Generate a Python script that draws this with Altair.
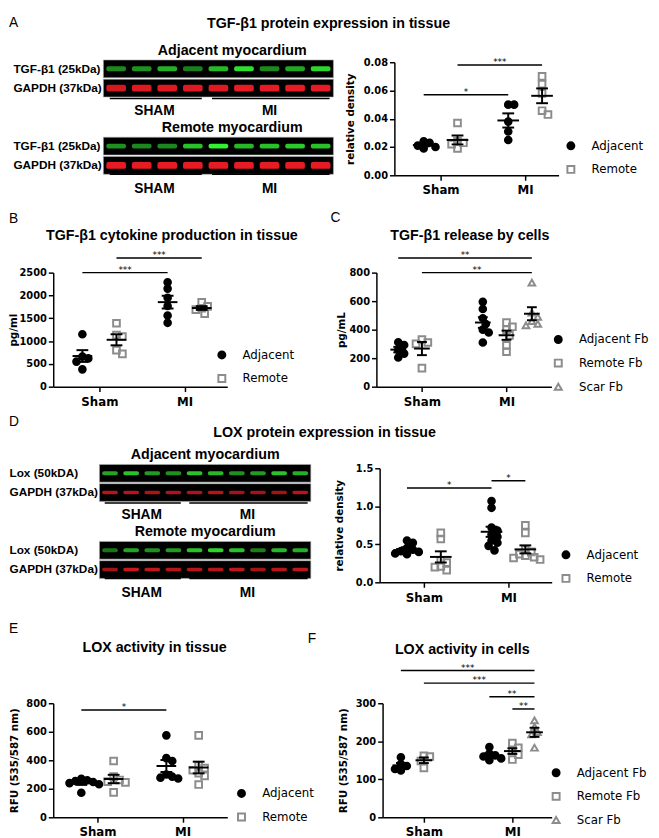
import json
import altair as alt
import pandas as pd

# ------------------------------------------------------------------ styles
SANS = "Liberation Sans"
PRISM = "DejaVu Sans"
GREY = "#8c8c8c"
GREEN = "#33f233"
RED = "#f01c24"

# ------------------------------------------------------------------ categories / texts
GROUPS = ["Sham", "MI"]
SERIES_TISSUE = ["Adjacent", "Remote"]
SERIES_CELLS = ["Adjacent Fb", "Remote Fb", "Scar Fb"]
LETTERS = ["A", "B", "C", "D", "E", "F"]
TITLES = ["TGF-β1 protein expression in tissue",
          "TGF-β1 cytokine production in tissue",
          "TGF-β1 release by cells",
          "LOX protein expression in tissue",
          "LOX activity in tissue",
          "LOX activity in cells"]

# ------------------------------------------------------------------ panel A (densitometry)
A_adj_sham = [0.024, 0.023, 0.021, 0.020, 0.019]
A_rem_sham = [0.037, 0.024, 0.023, 0.022, 0.019]
A_adj_mi = [0.050, 0.050, 0.038, 0.031, 0.025]
A_rem_mi = [0.070, 0.0645, 0.058, 0.0457, 0.043]
A_sig = [["Sham", "Adjacent", "MI", "Adjacent", 0.057, "*"],
         ["Sham", "Remote", "MI", "Remote", 0.078, "***"]]
A_lane_groups = ["SHAM", "SHAM", "SHAM", "SHAM", "MI", "MI", "MI", "MI", "MI"]
A_blot_titles = ["Adjacent myocardium", "Remote myocardium"]
A_blot_rows = ["TGF-β1 (25kDa)", "GAPDH (37kDa)"]
A_adj_tgf = [0.45, 0.50, 0.65, 0.40, 0.70, 0.90, 0.45, 0.60, 0.85]
A_adj_gapdh = [0.85, 0.90, 0.90, 0.90, 0.90, 0.95, 0.95, 0.95, 0.95]
A_rem_tgf = [0.50, 0.45, 0.45, 0.75, 1.00, 0.70, 0.75, 0.80, 0.75]
A_rem_gapdh = [0.95, 0.95, 0.95, 0.95, 0.95, 0.95, 0.95, 0.95, 0.95]

# ------------------------------------------------------------------ panel B
B_adj_sham = [1150, 660, 620, 550, 380]
B_rem_sham = [1390, 1130, 1100, 800, 720]
B_adj_mi = [2290, 2150, 1950, 1770, 1560, 1400]
B_rem_mi = [1850, 1760, 1720, 1690, 1600]
B_sig = [["Sham", "Adjacent", "MI", "Adjacent", 2500, "***"],
         ["Sham", "Remote", "MI", "Remote", 2823, "***"]]

# ------------------------------------------------------------------ panel C
C_adj_sham = [312, 292, 258, 232, 205]
C_rem_sham = [330, 310, 300, 130]
C_adj_mi = [595, 545, 480, 440, 400, 380, 310]
C_rem_mi = [450, 420, 400, 360, 290, 245]
C_scar_mi = [730, 520, 490, 460, 440, 430]
C_sig = [["Sham", "Adjacent Fb", "MI", "Scar Fb", 903, "**"],
         ["Sham", "Remote Fb", "MI", "Scar Fb", 800, "**"]]

# ------------------------------------------------------------------ panel D
D_adj_sham = [0.55, 0.52, 0.45, 0.43, 0.41, 0.40, 0.38, 0.37]
D_rem_sham = [0.65, 0.57, 0.29, 0.26, 0.21, 0.20, 0.16]
D_adj_mi = [1.07, 0.98, 0.72, 0.68, 0.63, 0.60, 0.55, 0.52, 0.48, 0.42]
D_rem_mi = [0.75, 0.65, 0.43, 0.40, 0.37, 0.35, 0.33, 0.32, 0.30]
D_sig = [["Sham", "Adjacent", "MI", "Adjacent", 1.24, "*"],
         ["MI", "Adjacent", "MI", "Remote", 1.336, "*"]]
D_lane_groups = ["SHAM", "SHAM", "SHAM", "SHAM", "MI", "MI", "MI", "MI", "MI", "MI"]
D_blot_titles = ["Adjacent myocardium", "Remote myocardium"]
D_blot_rows = ["Lox (50kDA)", "GAPDH (37kDa)"]
D_adj_lox = [0.60, 0.75, 0.55, 0.50, 0.75, 0.70, 0.50, 0.55, 0.75, 0.65]
D_adj_gapdh = [0.70, 0.70, 0.65, 0.65, 0.65, 0.70, 0.60, 0.60, 0.60, 0.70]
D_rem_lox = [0.35, 0.60, 0.50, 0.55, 0.75, 0.85, 0.75, 0.40, 0.70, 0.65]
D_rem_gapdh = [0.60, 0.80, 0.75, 0.70, 0.70, 0.70, 0.75, 0.60, 0.70, 0.75]

# ------------------------------------------------------------------ panel E
E_adj_sham = [270, 260, 255, 248, 240, 232, 172]
E_rem_sham = [395, 285, 262, 250, 245, 175]
E_adj_mi = [575, 415, 395, 300, 285, 278, 272]
E_rem_mi = [575, 365, 345, 330, 310, 290, 230]
E_sig = [["Sham", "Adjacent", "MI", "Adjacent", 752, "*"]]

# ------------------------------------------------------------------ panel F
F_adj_sham = [158, 140, 135, 127, 123]
F_rem_sham = [162, 160, 148, 130]
F_adj_mi = [185, 168, 163, 160, 155, 150]
F_rem_mi = [195, 183, 176, 165, 152]
F_scar_mi = [255, 238, 224, 218, 183]
F_sig = [["Sham", "Adjacent Fb", "MI", "Scar Fb", 386, "***"],
         ["Sham", "Remote Fb", "MI", "Scar Fb", 353, "***"],
         ["MI", "Adjacent Fb", "MI", "Scar Fb", 317, "**"],
         ["MI", "Remote Fb", "MI", "Scar Fb", 285, "**"]]

SHAPES = ["circle", "square", "triangle-up"]
FILLS = ["black", "transparent", "transparent"]
STROKES = ["black", GREY, GREY]

CFG = {
    "A": dict(w=167, h=115, xdom=[0.4535, 2.3953], ymax=0.08, yticks=[0, 0.02, 0.04, 0.06, 0.08],
              fmt=".2f", ytitle="relative density", tx=-45,
              off={"Adjacent": -0.2, "Remote": 0.2}, mw=22, cw=12, leg=(173.5, 79)),
    "B": dict(w=177, h=116, xdom=[0.458, 2.4994], ymax=2500, yticks=[0, 500, 1000, 1500, 2000, 2500],
              fmt="d", ytitle="pg/ml", tx=-40,
              off={"Adjacent": -0.2, "Remote": 0.2}, mw=20, cw=12, leg=(165.5, 77.7)),
    "C": dict(w=178, h=116, xdom=[0.4616, 2.531], ymax=800, yticks=[0, 200, 400, 600, 800],
              fmt="d", ytitle="pg/mL", tx=-35,
              off={"Adjacent Fb": -0.28, "Remote Fb": 0.0, "Scar Fb": 0.3}, mw=16, cw=10, leg=(179, 62)),
    "D": dict(w=175, h=116, xdom=[0.4767, 2.5116], ymax=1.5, yticks=[0, 0.5, 1.0, 1.5],
              fmt=".1f", ytitle="relative density", tx=-41,
              off={"Adjacent": -0.2, "Remote": 0.2}, mw=22, cw=12, leg=(183.5, 82)),
    "E": dict(w=177, h=116, xdom=[0.4798, 2.526], ymax=800, yticks=[0, 200, 400, 600, 800],
              fmt="d", ytitle="RFU (535/587 nm)", tx=-39,
              off={"Adjacent": -0.19, "Remote": 0.19}, mw=20, cw=12, leg=(185.5, 85.7)),
    "F": dict(w=172, h=116, xdom=[0.5333, 2.4444], ymax=300, yticks=[0, 100, 200, 300],
              fmt="d", ytitle="RFU (535/587 nm)", tx=-40,
              off={"Adjacent Fb": -0.26, "Remote Fb": 0.0, "Scar Fb": 0.25}, mw=17, cw=10, leg=(170.5, 64.7)),
}


def swarm(vals, ppu, step_px, dmin=6.0, s=3.0):
    """Simple beeswarm layout: horizontal offsets (x units) so dots do not pile up."""
    order = sorted(range(len(vals)), key=lambda i: -vals[i])
    cands = [0.0]
    for m in range(1, 14):
        cands += [m * s, -m * s]
    placed, offs = [], [0.0] * len(vals)
    for i in order:
        yv = vals[i] * ppu
        chosen = cands[-1]
        for c in cands:
            if all((c - px) ** 2 + (yv - py) ** 2 >= dmin ** 2 for px, py in placed):
                chosen = c
                break
        placed.append((chosen, yv))
        offs[i] = chosen / step_px
    return offs


def gi_expr(f):
    return "(indexof(" + json.dumps(GROUPS) + ", datum." + f + ") + 1)"


def off_expr(f, offs):
    return "(" + " : ".join(f"datum.{f} == '{s}' ? {o}" for s, o in offs.items()) + " : 0)"


def text_layer(txt, x, y, size, weight, align="left"):
    return alt.Chart(pd.DataFrame({"t": [txt]})).mark_text(
        font=SANS, fontSize=size, fontWeight=weight, align=align, baseline="alphabetic", color="black"
    ).encode(x=alt.value(x), y=alt.value(y), text="t:N")


def spacer(top, bottom):
    # invisible (white) rule that fixes the vertical extent of a row of panels
    return alt.Chart(pd.DataFrame({"s": [0]})).mark_rule(color="white", strokeWidth=0.5).encode(
        x=alt.value(-45), y=alt.value(top), y2=alt.value(bottom))


def scatter_cell(gv, series, cfg, sig, before=(), after=()):
    W, H = cfg["w"], cfg["h"]
    n = len(series)
    ppu = H / cfg["ymax"]
    step = W / (cfg["xdom"][1] - cfg["xdom"][0])
    recs = []
    for g, s, vals in gv:
        for v, o in zip(vals, swarm(vals, ppu, step)):
            recs.append(dict(group=g, series=s, value=v, swarm=o))
    df = pd.DataFrame(recs)
    xs = alt.Scale(domain=cfg["xdom"], nice=False, zero=False)
    ys = alt.Scale(domain=[0, cfg["ymax"]], nice=False, zero=False)
    xax = alt.Axis(values=[1, 2], labelExpr=f"datum.value == 1 ? '{GROUPS[0]}' : '{GROUPS[1]}'",
                   title=None, grid=False)
    yax = alt.Axis(values=cfg["yticks"], format=cfg["fmt"], title=cfg["ytitle"], grid=False,
                   titleX=cfg["tx"], titleY=H / 2, titleAngle=270, titleAlign="center",
                   titleBaseline="middle")

    def X(f):
        return alt.X(f, type="quantitative", scale=xs, axis=xax)

    def Y(f):
        return alt.Y(f, type="quantitative", scale=ys, axis=yax)

    xpos = gi_expr("group") + " + " + off_expr("series", cfg["off"])
    leg = alt.Legend(orient="none", legendX=cfg["leg"][0], legendY=cfg["leg"][1], title=None,
                     labelFont=PRISM, labelFontSize=12, labelColor="black", symbolSize=50,
                     symbolStrokeWidth=2, rowPadding=8, labelOffset=15, padding=0)
    pts = alt.Chart(df).transform_calculate(xpos=xpos + " + datum.swarm").mark_point(
        filled=True, size=46, strokeWidth=2, opacity=1
    ).encode(
        x=X("xpos"), y=Y("value"),
        shape=alt.Shape("series:N", scale=alt.Scale(domain=series, range=SHAPES[:n]), legend=leg),
        fill=alt.Fill("series:N", scale=alt.Scale(domain=series, range=FILLS[:n]), legend=leg),
        stroke=alt.Stroke("series:N", scale=alt.Scale(domain=series, range=STROKES[:n]), legend=leg),
    )
    agg = alt.Chart(df).transform_aggregate(
        m="mean(value)", se="stderr(value)", groupby=["group", "series"]
    ).transform_calculate(xpos=xpos, lo="datum.m - datum.se", hi="datum.m + datum.se")
    mean = agg.mark_tick(orient="horizontal", size=cfg["mw"], thickness=2, color="black",
                         opacity=1).encode(x=X("xpos"), y=Y("m"))
    err = agg.mark_rule(color="black", strokeWidth=2).encode(x=X("xpos"), y=Y("lo"), y2="hi:Q")
    cap1 = agg.mark_tick(orient="horizontal", size=cfg["cw"], thickness=2, color="black",
                         opacity=1).encode(x=X("xpos"), y=Y("lo"))
    cap2 = agg.mark_tick(orient="horizontal", size=cfg["cw"], thickness=2, color="black",
                         opacity=1).encode(x=X("xpos"), y=Y("hi"))
    sdf = pd.DataFrame(sig, columns=["g1", "s1", "g2", "s2", "level", "stars"])
    sb = alt.Chart(sdf).transform_calculate(
        xa=gi_expr("g1") + " + " + off_expr("s1", cfg["off"]),
        xb=gi_expr("g2") + " + " + off_expr("s2", cfg["off"]),
    ).transform_calculate(xm="(datum.xa + datum.xb) / 2")
    bars = sb.mark_rule(color="black", strokeWidth=1.5).encode(x=X("xa"), x2="xb:Q", y=Y("level"))
    stars = sb.mark_text(font=PRISM, fontSize=9, baseline="alphabetic", color="black").encode(
        x=X("xm"), y=Y("level"), text="stars:N")
    return alt.layer(*before, pts, mean, err, cap1, cap2, bars, stars, *after).properties(width=W, height=H)


ROW_KEYS = ["t1", "a1", "a2", "g1", "t2", "r1", "r2"]


def blot_cell(lane_groups, rows, titles, adj_top, adj_bot, rem_top, rem_bot, lay, before=(), after=()):
    n = len(lane_groups)
    lanes = list(range(1, n + 1))
    recs = []
    for key, vals, kind in [("a1", adj_top, "top"), ("a2", adj_bot, "bot"),
                            ("r1", rem_top, "top"), ("r2", rem_bot, "bot")]:
        for ln, v in zip(lanes, vals):
            recs.append({"row": key, "lane": ln, "intensity": v, "kind": kind})
    bdf = pd.DataFrame(recs)
    label_of = {"a1": rows[0], "a2": rows[1], "r1": rows[0], "r2": rows[1]}
    expr = " : ".join(f"datum.value == '{k}' ? '{v}'" for k, v in label_of.items()) + " : ''"
    ys = alt.Scale(domain=ROW_KEYS, range=lay["yr"], paddingInner=0.08, paddingOuter=0)
    yax = alt.Axis(title=None, domain=False, ticks=False, tickSize=0, labelExpr=expr, labelAlign="left",
                   labelPadding=lay["lp"], labelFont=SANS, labelFontWeight="bold", labelFontSize=12,
                   labelColor="black", labelBaseline="middle", labelOverlap=False, labelLimit=300)
    xs = alt.Scale(domain=[0.5, n + 0.5], range=lay["xr"], nice=False, zero=False)

    def X(f):
        return alt.X(f, type="quantitative", scale=xs, axis=None)

    def Y(**kw):
        return alt.Y("row:N", scale=ys, axis=yax, **kw)

    base = alt.Chart(bdf)
    # one black membrane strip per blot row, spanning all lanes
    boxes = base.transform_aggregate(lmin="min(lane)", lmax="max(lane)", groupby=["row"]).transform_calculate(
        x0="datum.lmin - 0.5", x1="datum.lmax + 0.5").mark_rect(
        color="black", stroke="#b0b0b0", strokeWidth=0.6).encode(x=X("x0"), x2="x1:Q", y=Y())
    op = alt.Opacity("intensity:Q", scale=alt.Scale(domain=[0, 1], range=[0.2, 1]), legend=None)
    green = base.transform_filter("datum.kind == 'top'").mark_tick(
        orient="horizontal", color=GREEN, size=lay["gs"], thickness=lay["gt"], cornerRadius=2).encode(
        x=X("lane"), y=Y(), opacity=op)
    red = base.transform_filter("datum.kind == 'bot'").mark_tick(
        orient="horizontal", color=RED, size=lay["rs"], thickness=lay["rt"], cornerRadius=2).encode(
        x=X("lane"), y=Y(), opacity=op)
    uniq = []
    for g in lane_groups:
        if g not in uniq:
            uniq.append(g)
    grecs = []
    for pos in ["upper", "lower"]:
        for gname in uniq:
            idx = [i + 1 for i, g in enumerate(lane_groups) if g == gname]
            grecs.append({"pos": pos, "row": "g1" if pos == "upper" else "r2",
                          "label": gname, "first": idx[0], "last": idx[-1]})
    gb = alt.Chart(pd.DataFrame(grecs)).transform_calculate(
        xc="(datum.first + datum.last) / 2", u0="datum.first - 0.25", u1="datum.last + 0.35")
    up = gb.transform_filter("datum.pos == 'upper'")
    lo = gb.transform_filter("datum.pos == 'lower'")
    under1 = up.mark_rule(color="black", strokeWidth=1.5).encode(x=X("u0"), x2="u1:Q", y=Y(bandPosition=0))
    under2 = lo.mark_rule(color="black", strokeWidth=1.5).encode(x=X("u0"), x2="u1:Q", y=Y(bandPosition=1))
    glab1 = up.mark_text(font=SANS, fontWeight="bold", fontSize=14, baseline="middle", dy=lay["gdy1"],
                         color="black").encode(x=X("xc"), y=Y(), text="label:N")
    glab2 = lo.mark_text(font=SANS, fontWeight="bold", fontSize=14, baseline="middle", dy=lay["gdy2"],
                         color="black").encode(x=X("xc"), y=Y(), text="label:N")
    tb = alt.Chart(pd.DataFrame({"row": ["t1", "t2"], "label": titles, "first": [1, 1], "last": [n, n]})
                   ).transform_calculate(xc="(datum.first + datum.last) / 2")
    tlab = tb.mark_text(font=SANS, fontWeight="bold", fontSize=14.5, baseline="middle", dx=lay["tdx"],
                        dy=lay["tdy"], color="black").encode(x=X("xc"), y=Y(), text="label:N")
    return alt.layer(*before, boxes, green, red, under1, under2, glab1, glab2, tlab, *after).properties(
        width=lay["w"], height=lay["h"])


blotA = blot_cell(A_lane_groups, A_blot_rows, A_blot_titles, A_adj_tgf, A_adj_gapdh, A_rem_tgf, A_rem_gapdh,
                  dict(w=287, h=115, xr=[51, 285], yr=[-22, 114], lp=41, gs=20, gt=5, rs=20, rt=7,
                       gdy1=4, gdy2=24, tdx=14, tdy=1.5),
                  before=[spacer(-47, 145)],
                  after=[text_layer(LETTERS[0], -45, -35.5, 14, "normal"),
                         text_layer(TITLES[0], 280, -34.6, 14.5, "bold", "center")])
scatA = scatter_cell([("Sham", "Adjacent", A_adj_sham), ("Sham", "Remote", A_rem_sham),
                      ("MI", "Adjacent", A_adj_mi), ("MI", "Remote", A_rem_mi)],
                     SERIES_TISSUE, CFG["A"], A_sig)

scatB = scatter_cell([("Sham", "Adjacent", B_adj_sham), ("Sham", "Remote", B_rem_sham),
                      ("MI", "Adjacent", B_adj_mi), ("MI", "Remote", B_rem_mi)],
                     SERIES_TISSUE, CFG["B"], B_sig,
                     before=[spacer(-67, 137)],
                     after=[text_layer(LETTERS[1], -45, -50, 14, "normal"),
                            text_layer(TITLES[1], 120.7, -33.6, 14.5, "bold", "center")])
scatC = scatter_cell([("Sham", "Adjacent Fb", C_adj_sham), ("Sham", "Remote Fb", C_rem_sham),
                      ("MI", "Adjacent Fb", C_adj_mi), ("MI", "Remote Fb", C_rem_mi),
                      ("MI", "Scar Fb", C_scar_mi)],
                     SERIES_CELLS, CFG["C"], C_sig,
                     after=[text_layer(LETTERS[2], -46.7, -51, 14, "normal"),
                            text_layer(TITLES[2], 95, -33.6, 14.5, "bold", "center")])

blotD = blot_cell(D_lane_groups, D_blot_rows, D_blot_titles, D_adj_lox, D_adj_gapdh, D_rem_lox, D_rem_gapdh,
                  dict(w=262, h=116, xr=[47, 262], yr=[-23.5, 112], lp=45, gs=16, gt=4, rs=16, rt=3.5,
                       gdy1=3, gdy2=24, tdx=0, tdy=1.5),
                  before=[spacer(-60, 148)],
                  after=[text_layer(LETTERS[3], -45, -43, 14, "normal"),
                         text_layer(TITLES[3], 276, -31.6, 14.5, "bold", "center")])
scatD = scatter_cell([("Sham", "Adjacent", D_adj_sham), ("Sham", "Remote", D_rem_sham),
                      ("MI", "Adjacent", D_adj_mi), ("MI", "Remote", D_rem_mi)],
                     SERIES_TISSUE, CFG["D"], D_sig)

scatE = scatter_cell([("Sham", "Adjacent", E_adj_sham), ("Sham", "Remote", E_rem_sham),
                      ("MI", "Adjacent", E_adj_mi), ("MI", "Remote", E_rem_mi)],
                     SERIES_TISSUE, CFG["E"], E_sig,
                     before=[spacer(-89, 135)],
                     after=[text_layer(LETTERS[4], -45, -71, 14, "normal"),
                            text_layer(TITLES[4], 103, -52.6, 14.5, "bold", "center")])
scatF = scatter_cell([("Sham", "Adjacent Fb", F_adj_sham), ("Sham", "Remote Fb", F_rem_sham),
                      ("MI", "Adjacent Fb", F_adj_mi), ("MI", "Remote Fb", F_rem_mi),
                      ("MI", "Scar Fb", F_scar_mi)],
                     SERIES_CELLS, CFG["F"], F_sig,
                     after=[text_layer(LETTERS[5], -76, -61, 14, "normal"),
                            text_layer(TITLES[5], 81, -50.6, 14.5, "bold", "center")])

IND = dict(shape="independent", fill="independent", stroke="independent", opacity="independent")


def row(a, b, spacing):
    return alt.hconcat(a, b, spacing=spacing, bounds="flush").resolve_scale(**IND)


chart = alt.vconcat(
    row(blotA, scatA, 60),
    row(scatB, scatC, 151.7),
    row(blotD, scatD, 70),
    row(scatE, scatF, 158),
    spacing=0,
).resolve_scale(**IND).properties(
    padding={"left": 0, "top": 0, "right": 2, "bottom": 0}
).configure_view(stroke=None).configure_axis(
    domainColor="black", domainWidth=1.5, tickColor="black", tickWidth=1.5, tickSize=5,
    labelColor="black", titleColor="black", labelFont=PRISM, labelFontWeight="bold", labelFontSize=10,
    titleFont=PRISM, titleFontWeight="bold", titleFontSize=10.5, grid=False, labelPadding=2,
).configure_axisX(labelFontSize=12, labelPadding=5)

chart.save("out.html", embed_options={"renderer": "svg", "actions": False})
